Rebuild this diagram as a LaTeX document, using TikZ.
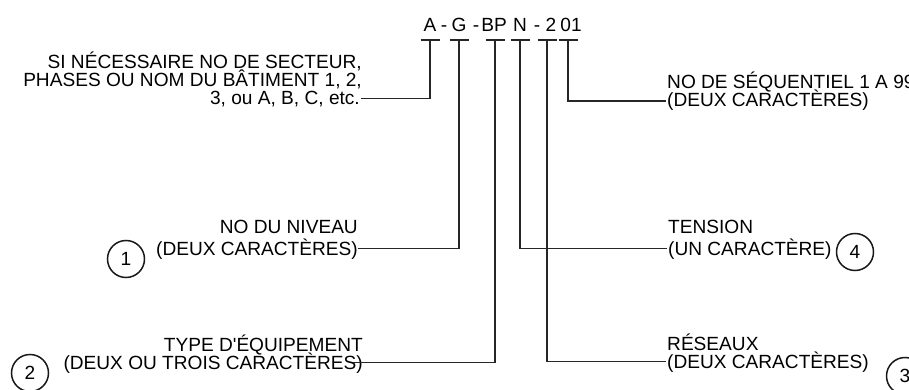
\documentclass[tikz,border=0pt]{standalone}
\usepackage{fontspec}
\setmainfont{Liberation Sans}
\begin{document}
\begin{tikzpicture}[x=1pt,y=-1pt,
  lbl/.style={inner sep=0pt, font=\fontsize{19.1}{22}\selectfont, text=black},
  code/.style={inner sep=0pt, anchor=base, font=\fontsize{19.1}{22}\selectfont, text=black},
  conn/.style={line width=1.6pt, draw=black!85},
  tick/.style={line width=1.6pt, draw=black!85},
  num/.style={circle, draw=black!90, line width=1.5pt, minimum size=37pt, inner sep=0pt, font=\fontsize{19.1}{22}\selectfont}]
\useasboundingbox (0,0) rectangle (909,390);

% code string
\node[code] (cA)  at (430,32) {A};
\node[code] (d1)  at (444,32) {-};
\node[code] (cG)  at (459,32) {G};
\node[code] (d2)  at (476,32) {-};
\node[code] (cBP) at (494,32) {BP};
\node[code] (cN)  at (520,32) {N};
\node[code] (d3)  at (537,32) {-};
\node[code] (c2)  at (551,32) {2};
\node[code] (c01) at (571,32) {01};

% tick coordinates
\coordinate (tA)  at (430,40);
\coordinate (tG)  at (459,40);
\coordinate (tBP) at (495,40);
\coordinate (tN)  at (520,40);
\coordinate (t2)  at (547,40);
\coordinate (t01) at (568,40);
\foreach \t in {tA,tG,tBP,tN,t2,t01}
  \draw[tick] ([xshift=-9.5pt]\t) -- ([xshift=9.5pt]\t);

% labels
\node[lbl,anchor=base east] (sn1) at (362,69) {SI NÉCESSAIRE NO DE SECTEUR,};
\node[lbl,anchor=base east] (sn2) at (362,87) {PHASES OU NOM DU BÂTIMENT 1, 2,};
\node[lbl,anchor=base east] (sn3) at (360,105) {3, ou A, B, C, etc.};

\node[lbl,anchor=base west] (sq1) at (667,89) {NO DE SÉQUENTIEL 1 A 99};
\node[lbl,anchor=base west] (sq2) at (667,107) {(DEUX CARACTÈRES)};

\node[lbl,anchor=base east] (nv1) at (358,233) {NO DU NIVEAU};
\node[lbl,anchor=base east] (nv2) at (358,255) {(DEUX CARACTÈRES)};

\node[lbl,anchor=base west] (te1) at (668,233) {TENSION};
\node[lbl,anchor=base west] (te2) at (668,255) {(UN CARACTÈRE)};

\node[lbl,anchor=base east] (ty1) at (363,351) {TYPE D\textquotesingle ÉQUIPEMENT};
\node[lbl,anchor=base east] (ty2) at (363,369) {(DEUX OU TROIS CARACTÈRES)};

\node[lbl,anchor=base west] (re1) at (667,350) {RÉSEAUX};
\node[lbl,anchor=base west] (re2) at (667,368) {(DEUX CARACTÈRES)};

% numbered circles
\node[num] (n1) at (126,259) {1};
\node[num] (n4) at (855,252) {4};
\node[num] (n2) at (30,373) {2};
\node[num] (n3) at (905,376) {3};

% connectors
\draw[conn] (tA)  |- ([xshift=1pt,yshift=6.5pt]sn3.base east);
\draw[conn] (t01) |- ([xshift=-1pt,yshift=6pt]sq2.base west);
\draw[conn] (tG)  |- ([xshift=0pt,yshift=6.5pt]nv2.base east);
\draw[conn] (tN)  |- ([xshift=-1pt,yshift=6.5pt]te2.base west);
\draw[conn] (tBP) |- ([xshift=-10pt,yshift=6.5pt]ty2.base east);
\draw[conn] (t2)  |- ([xshift=-1pt,yshift=6.5pt]re2.base west);
\end{tikzpicture}
\end{document}
